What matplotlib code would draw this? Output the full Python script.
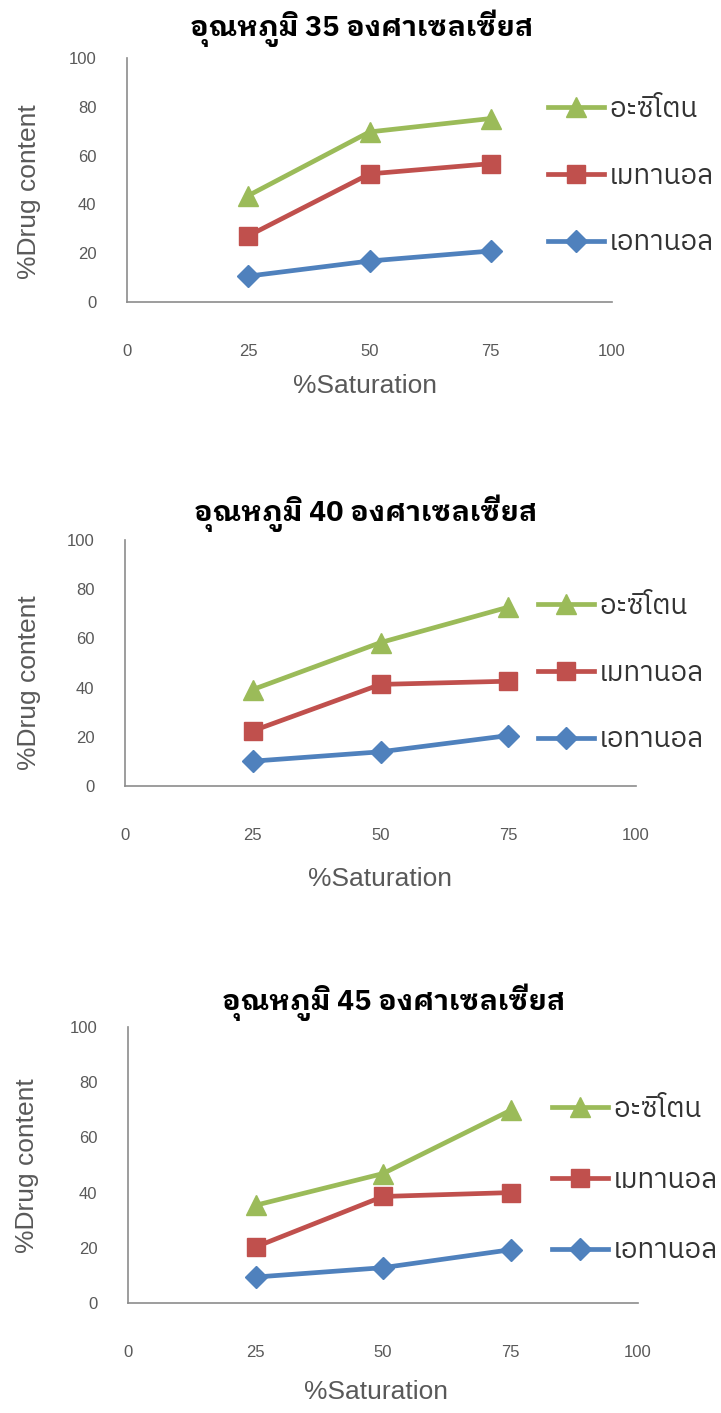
import matplotlib
matplotlib.use("Agg")
import matplotlib.pyplot as plt

W, H = 721, 1413

saturation = [25, 50, 75]
series_names = ["อะซิโตน", "เมทานอล", "เอทานอล"]
titles = ["อุณหภูมิ 35 องศาเซลเซียส",
          "อุณหภูมิ 40 องศาเซลเซียส",
          "อุณหภูมิ 45 องศาเซลเซียส"]

# %Drug content per temperature: acetone, methanol, ethanol
acetone = [[43.6, 69.7, 75.2], [39.2, 58.3, 72.7], [35.4, 46.9, 69.8]]
methanol = [[27.1, 52.5, 56.7], [22.4, 41.3, 42.6], [20.3, 38.6, 40.0]]
ethanol = [[10.6, 16.8, 20.9], [10.1, 13.9, 20.5], [9.4, 12.8, 19.3]]

x_ticks = [0, 25, 50, 75, 100]
y_ticks = [0, 20, 40, 60, 80, 100]

GREEN = "#9bbb59"
RED = "#c0504d"
BLUE = "#4f81bd"
TICK_COL = "#595959"
AXIS_COL = "#8c8c8c"

LATIN = "Liberation Sans"
THAI_TITLE = ["IBM Plex Sans Thai Looped", "Liberation Sans"]
THAI_LEGEND = ["IBM Plex Sans Thai", "Liberation Sans"]

# pixel layout of each panel
# axes box: left, right, top, bottom
panels = [
    dict(box=(127, 612, 58, 302), title=(362, 28), xlab=(365, 386), ylab=(29, 192),
         leg=(548, 96), leg_sp=1.43),
    dict(box=(125, 636, 540, 786), title=(366, 513), xlab=(380, 879), ylab=(29, 683),
         leg=(538, 593), leg_sp=1.43),
    dict(box=(128, 638, 1027, 1303), title=(394, 1002), xlab=(376, 1392), ylab=(27, 1166),
         leg=(552, 1096), leg_sp=1.57),
]


def fx(px):
    return px / W


def fy(py):
    return 1 - py / H


fig = plt.figure(figsize=(W / 100, H / 100), dpi=100)

for i, p in enumerate(panels):
    left, right, top, bottom = p["box"]
    ax = fig.add_axes([fx(left), fy(bottom), (right - left) / W, (bottom - top) / H])

    l_eth, = ax.plot(saturation, ethanol[i], color=BLUE, lw=3.4, marker="D", ms=11,
                     label=series_names[2])
    l_met, = ax.plot(saturation, methanol[i], color=RED, lw=3.4, marker="s", ms=13,
                     label=series_names[1])
    l_ace, = ax.plot(saturation, acetone[i], color=GREEN, lw=3.4, marker="^", ms=15,
                     label=series_names[0])

    ax.set_xlim(0, 100)
    ax.set_ylim(0, 100)
    ax.set_xticks(x_ticks)
    ax.set_yticks(y_ticks)
    ax.set_xticklabels([str(v) for v in x_ticks], fontfamily=LATIN)
    ax.set_yticklabels([str(v) for v in y_ticks], fontfamily=LATIN)
    ax.tick_params(axis="both", length=0, labelsize=12, colors=TICK_COL)
    ax.tick_params(axis="x", pad=30)
    ax.tick_params(axis="y", pad=22)
    for s in ["top", "right"]:
        ax.spines[s].set_visible(False)
    for s in ["left", "bottom"]:
        ax.spines[s].set_color(AXIS_COL)
        ax.spines[s].set_linewidth(1.2)

    ax.set_xlabel("%Saturation", fontfamily=LATIN, fontsize=19, color=TICK_COL)
    ax.set_ylabel("%Drug content", fontfamily=LATIN, fontsize=19, color=TICK_COL)
    w_px = right - left
    h_px = bottom - top
    ax.xaxis.set_label_coords((p["xlab"][0] - left) / w_px, -(p["xlab"][1] - bottom) / h_px)
    ax.yaxis.set_label_coords((p["ylab"][0] - left) / w_px, (bottom - p["ylab"][1]) / h_px)
    ax.xaxis.label.set_va("center")
    ax.yaxis.label.set_va("center")

    fig.text(fx(p["title"][0]), fy(p["title"][1]), titles[i], ha="center", va="center",
             fontfamily=THAI_TITLE, fontweight="bold", fontsize=20.5)

    fig.legend(handles=[l_ace, l_met, l_eth], loc="upper left",
               bbox_to_anchor=(fx(p["leg"][0]), fy(p["leg"][1])),
               frameon=False, prop=dict(family=THAI_LEGEND, size=20),
               handlelength=2.0, handletextpad=0.2, labelspacing=p["leg_sp"],
               borderpad=0, borderaxespad=0, labelcolor="#333333")

fig.savefig("out.png", dpi=100)
